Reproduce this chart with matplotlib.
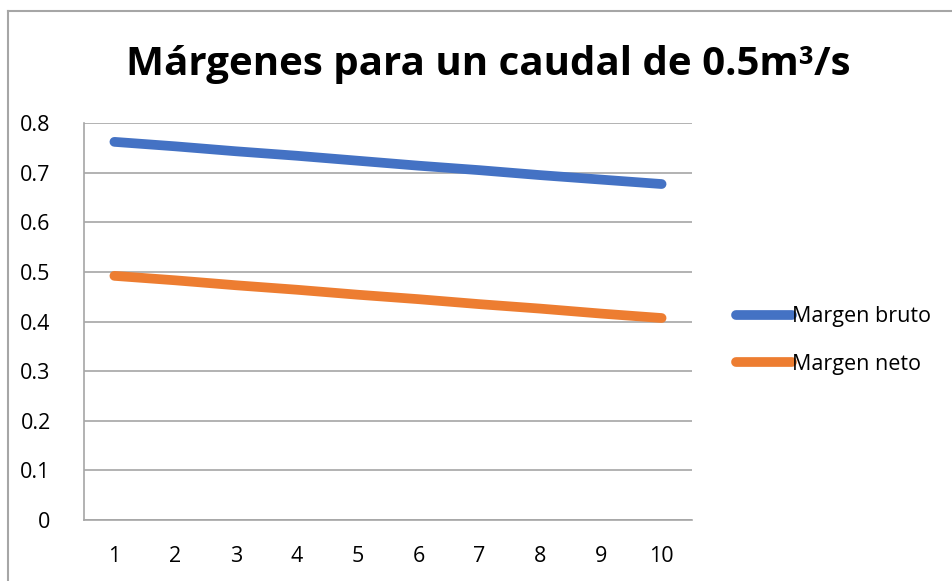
import matplotlib.pyplot as plt
from matplotlib.lines import Line2D

# datos
categorias = [1, 2, 3, 4, 5, 6, 7, 8, 9, 10]
margen_bruto = [0.762, 0.753, 0.743, 0.734, 0.724, 0.714, 0.705, 0.695, 0.686, 0.677]
margen_neto = [0.492, 0.483, 0.473, 0.464, 0.454, 0.445, 0.435, 0.426, 0.416, 0.407]
yticks = [0, 0.1, 0.2, 0.3, 0.4, 0.5, 0.6, 0.7, 0.8]
ytick_labels = ["0", "0.1", "0.2", "0.3", "0.4", "0.5", "0.6", "0.7", "0.8"]

plt.rcParams['font.family'] = ['Open Sans', 'DejaVu Sans']

fig = plt.figure(figsize=(9.53, 5.81), dpi=100)
ax = fig.add_axes([84/953, 61/581, 608/953, 397/581])

gris = "#A6A6A6"
ax.plot(categorias, margen_bruto, color="#4472C4", linewidth=7, solid_capstyle="round", label="Margen bruto")
ax.plot(categorias, margen_neto, color="#ED7D31", linewidth=7, solid_capstyle="round", label="Margen neto")

ax.set_xlim(0.5, 10.5)
ax.set_ylim(0, 0.8)
ax.set_xticks(categorias)
ax.set_xticklabels([str(c) for c in categorias])
ax.set_yticks(yticks)
ax.set_yticklabels(ytick_labels)
ax.tick_params(axis="both", length=0, labelsize=15.5, colors="black")
ax.tick_params(axis="y", pad=24)
ax.tick_params(axis="x", pad=19)
ax.grid(axis="y", color=gris, linewidth=1.2)
ax.set_axisbelow(True)
for lado in ["top", "right"]:
    ax.spines[lado].set_visible(False)
ax.spines["left"].set_color(gris)
ax.spines["bottom"].set_color(gris)
ax.spines["left"].set_linewidth(1.2)
ax.spines["bottom"].set_linewidth(1.2)

fig.text(488/953, 1 - 64/581, "Márgenes para un caudal de 0.5m³/s", ha="center", va="center",
         fontsize=29, fontweight="bold")

ax.legend(loc="center left", bbox_to_anchor=(1.04, 0.452), frameon=False, fontsize=15.5,
          handlelength=2.6, handletextpad=0.0, labelspacing=1.25)

# borde del grafico
fig.add_artist(Line2D([8/953, 1], [1 - 11/581, 1 - 11/581], color=gris, linewidth=1.5))
fig.add_artist(Line2D([8/953, 8/953], [0, 1 - 11/581], color=gris, linewidth=1.5))

plt.savefig("out.png", dpi=100)
